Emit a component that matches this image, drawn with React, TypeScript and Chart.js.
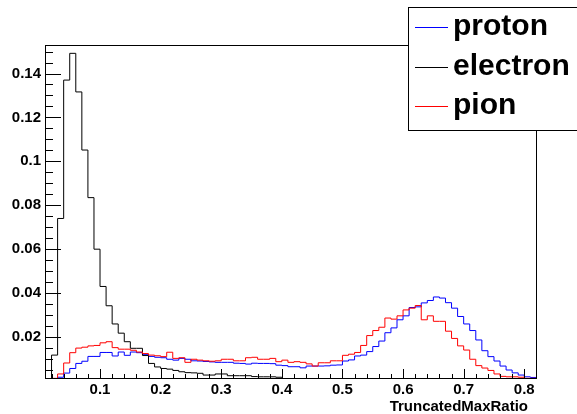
import React, { useEffect, useRef } from 'react';
import { Chart, registerables } from 'chart.js';

Chart.register(...registerables);

// Histogram binning (81 bins of width 0.01 starting at 0.01)
const BIN_START = 0.01;
const BIN_WIDTH = 0.01;

const protonValues = [
  0, 0.0008, 0.0015, 0.0034, 0.0055, 0.0078, 0.0088, 0.011, 0.011, 0.0128,
  0.0128, 0.0112, 0.013, 0.0115, 0.013, 0.0127, 0.0118, 0.011, 0.0106, 0.0104,
  0.0097, 0.0093, 0.0101, 0.0097, 0.009, 0.0089, 0.0087, 0.0085, 0.0083, 0.0083,
  0.0083, 0.0079, 0.0078, 0.0075, 0.0079, 0.0078, 0.0078, 0.0077, 0.007, 0.0068,
  0.0063, 0.0063, 0.0058, 0.0066, 0.0066, 0.0066, 0.0067, 0.007, 0.0071, 0.0089,
  0.0094, 0.0112, 0.0116, 0.0132, 0.0155, 0.018, 0.0218, 0.024, 0.0277, 0.0295,
  0.0333, 0.0336, 0.0354, 0.0365, 0.0381, 0.0376, 0.0355, 0.033, 0.0292, 0.0258,
  0.0228, 0.0185, 0.0136, 0.0109, 0.0089, 0.0066, 0.0048, 0.0035, 0.0025, 0.0017,
  0.0014,
];

const electronValues = [
  0, 0.0116, 0.0739, 0.137, 0.1492, 0.1316, 0.1051, 0.0834, 0.0599, 0.0429,
  0.0341, 0.0258, 0.0216, 0.0177, 0.0147, 0.0147, 0.0114, 0.0078, 0.0062, 0.0055,
  0.0052, 0.0046, 0.004, 0.0036, 0.0035, 0.0033, 0.0025, 0.0025, 0.003, 0.003,
  0.0022, 0.0022, 0.0022, 0.0022, 0.0018, 0.0017, 0.0017, 0.0017, 0.0015, 0.0006,
  0.0005, 0.0004, 0.0005, 0.0003, 0.0004, 0.0003, 0.0003, 0.0002, 0.0003, 0.0002,
  0.0002, 0.0002, 0.0002, 0.0001, 0.0002, 0.0001, 0.0001, 0.0002, 0.0001, 0.0001,
  0.0001, 0.0001, 0.0001, 0.0001, 0.0001, 0.0001, 0, 0.0001, 0, 0,
  0, 0, 0, 0, 0, 0, 0, 0, 0, 0,
  0,
];

const pionValues = [
  0, 0.001, 0.003, 0.008, 0.0127, 0.0148, 0.0152, 0.0158, 0.016, 0.0172,
  0.0177, 0.015, 0.0143, 0.0143, 0.0138, 0.013, 0.0123, 0.0116, 0.0113, 0.0109,
  0.0129, 0.0101, 0.0104, 0.0083, 0.0097, 0.0093, 0.009, 0.0088, 0.009, 0.0097,
  0.0097, 0.009, 0.009, 0.0104, 0.0106, 0.0097, 0.0097, 0.0101, 0.0086, 0.0093,
  0.0083, 0.0086, 0.0083, 0.0076, 0.0066, 0.0081, 0.0081, 0.009, 0.009, 0.0115,
  0.012, 0.0128, 0.016, 0.0205, 0.0228, 0.0243, 0.0285, 0.028, 0.0295, 0.0322,
  0.033, 0.0342, 0.0277, 0.0295, 0.027, 0.027, 0.0225, 0.0192, 0.0158, 0.0139,
  0.0097, 0.0068, 0.0057, 0.0046, 0.003, 0.0019, 0.0017, 0.0017, 0.0015, 0.001,
  0.001,
];

const xTickValues = [0.1, 0.2, 0.3, 0.4, 0.5, 0.6, 0.7, 0.8];
const yTickValues = [0.02, 0.04, 0.06, 0.08, 0.1, 0.12, 0.14];
const seriesNames = ['proton', 'electron', 'pion'];
const seriesColors = ['#0000ff', '#000000', '#ff0000'];
const xTitle = 'TruncatedMaxRatio';

const FONT_FAMILY = '"Liberation Sans", Arial, Helvetica, sans-serif';

function toSteps(values: number[]) {
  const pts = values.map((v, i) => ({ x: +(BIN_START + i * BIN_WIDTH).toFixed(4), y: v }));
  pts.push({ x: +(BIN_START + values.length * BIN_WIDTH).toFixed(4), y: values[values.length - 1] });
  return pts;
}

function fmt(v: number) {
  return String(Number(Number(v).toFixed(3)));
}

const rootDecor = {
  id: 'rootDecor',
  afterDraw(chart: any) {
    const { ctx, chartArea: a, scales } = chart;
    const xs = scales.x;
    const ys = scales.y;
    const L = Math.round(a.left);
    const T = Math.round(a.top);
    const R = Math.round(a.right);
    const B = Math.round(a.bottom);
    ctx.save();
    ctx.strokeStyle = '#000';
    ctx.lineWidth = 1;
    // frame
    ctx.strokeRect(L + 0.5, T + 0.5, R - L - 1, B - T - 1);

    // y ticks (inside, from left axis)
    ctx.beginPath();
    for (let i = 1; i <= 31; i++) {
      const v = i * 0.005;
      if (v < ys.min || v > ys.max) continue;
      const y = Math.round(ys.getPixelForValue(v)) + 0.5;
      const major = i % 4 === 0;
      ctx.moveTo(L, y);
      ctx.lineTo(L + (major ? 16 : 8), y);
    }
    // x ticks (inside, from bottom axis)
    for (let i = 1; i <= 41; i++) {
      const v = i * 0.02;
      if (v < xs.min || v > xs.max) continue;
      const x = Math.round(xs.getPixelForValue(v)) + 0.5;
      const major = i % 5 === 0;
      ctx.moveTo(x, B);
      ctx.lineTo(x, B - (major ? 10 : 5));
    }
    ctx.stroke();

    // axis title
    ctx.fillStyle = '#000';
    ctx.font = `bold 15px ${FONT_FAMILY}`;
    ctx.textAlign = 'right';
    ctx.textBaseline = 'alphabetic';
    ctx.fillText(xTitle, R - 9, 411);

    // legend
    const lx = 408;
    const ly = 7;
    ctx.fillStyle = '#fff';
    ctx.fillRect(lx, ly, 300, 124);
    ctx.strokeStyle = '#000';
    ctx.strokeRect(lx + 0.5, ly + 0.5, 300, 123);
    ctx.font = `bold 30px ${FONT_FAMILY}`;
    ctx.textAlign = 'left';
    seriesNames.forEach((name, i) => {
      const yy = Math.round(28 + i * 39.5) - 0.5;
      ctx.strokeStyle = seriesColors[i];
      ctx.beginPath();
      ctx.moveTo(415, yy);
      ctx.lineTo(448, yy);
      ctx.stroke();
      ctx.fillStyle = '#000';
      ctx.fillText(name, 453, yy + 7.5);
    });
    ctx.restore();
  },
};

export default function App() {
  const canvasRef = useRef<HTMLCanvasElement | null>(null);

  useEffect(() => {
    const canvas = canvasRef.current;
    if (!canvas) return;
    const allValues = [protonValues, electronValues, pionValues];
    // draw order: proton first, pion on top
    const datasets = [2, 1, 0].map((idx) => ({
      label: seriesNames[idx],
      data: toSteps(allValues[idx]),
      borderColor: seriesColors[idx],
      backgroundColor: seriesColors[idx],
      borderWidth: 1,
      stepped: 'before' as const,
      fill: false,
      pointRadius: 0,
      tension: 0,
    }));
    const tickFont = { family: FONT_FAMILY, size: 15, weight: 'bold' as const };
    const chart = new Chart(canvas, {
      type: 'line',
      data: { datasets },
      options: {
        animation: false,
        responsive: false,
        devicePixelRatio: 1,
        layout: { padding: { left: 0, right: 40, top: 45, bottom: 0 } },
        plugins: { legend: { display: false }, tooltip: { enabled: false } },
        scales: {
          x: {
            type: 'linear',
            min: 0.0092,
            max: 0.821,
            grid: { display: false, drawTicks: false },
            border: { display: false },
            afterBuildTicks: (s: any) => {
              s.ticks = xTickValues.map((v) => ({ value: v }));
            },
            afterFit: (s: any) => {
              s.height = 35;
            },
            ticks: {
              padding: 2,
              color: '#000',
              font: tickFont,
              autoSkip: false,
              maxRotation: 0,
              callback: (v: any) => fmt(v),
            },
          },
          y: {
            type: 'linear',
            min: 0.0007,
            max: 0.153,
            grid: { display: false, drawTicks: false },
            border: { display: false },
            afterBuildTicks: (s: any) => {
              s.ticks = yTickValues.map((v) => ({ value: v }));
            },
            afterFit: (s: any) => {
              s.width = 45;
            },
            ticks: {
              padding: 4,
              color: '#000',
              font: tickFont,
              autoSkip: false,
              callback: (v: any) => fmt(v),
            },
          },
        },
      },
      plugins: [rootDecor],
    });
    return () => chart.destroy();
  }, []);

  return (
    <div style={{ position: 'fixed', left: 0, top: 0, width: 577, height: 414, background: '#fff' }}>
      <canvas ref={canvasRef} width={577} height={414} style={{ display: 'block', width: 577, height: 414 }} />
    </div>
  );
}
